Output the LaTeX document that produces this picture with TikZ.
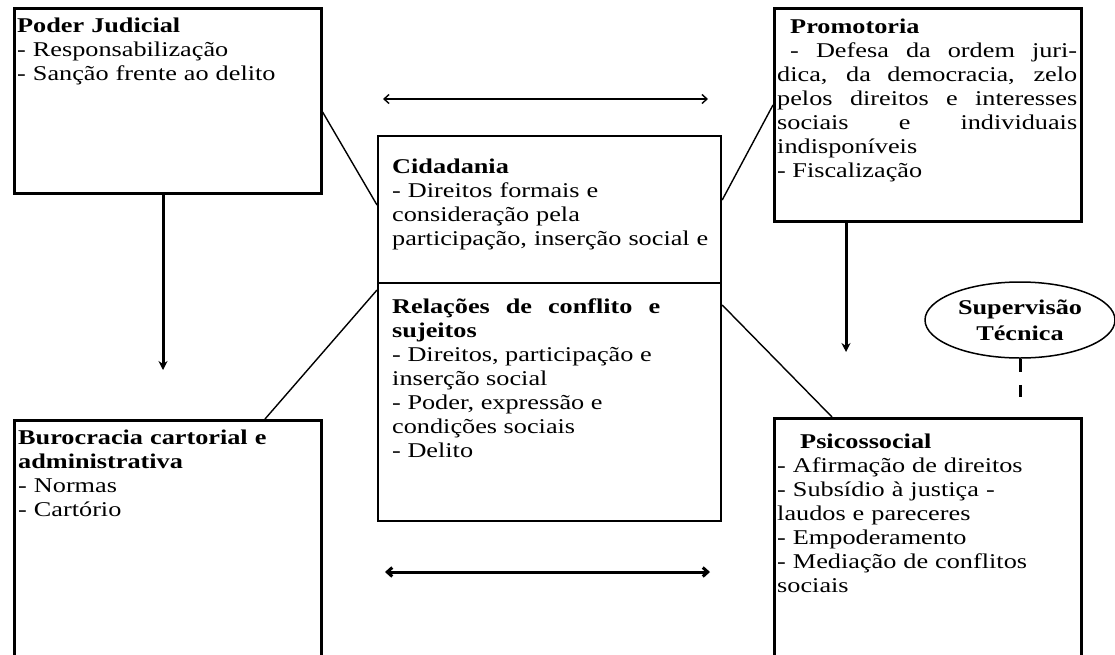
\documentclass[tikz,border=0pt]{standalone}
\usepackage{fontspec}
\setmainfont[FakeStretch=1.25]{Liberation Serif}
\usetikzlibrary{shapes.geometric,arrows.meta,calc}
\begin{document}
\begin{tikzpicture}[x=1pt,y=-1pt,
  box/.style={draw, line width=2.6pt, anchor=north west, inner sep=0pt},
  cbox/.style={draw, line width=2.2pt, anchor=north west, inner sep=0pt},
  txt/.style={anchor=base west, inner sep=0pt, font=\fontsize{21}{24}\selectfont},
  link/.style={line width=1.4pt},
  down/.style={line width=3pt, -{Stealth[length=9pt,width=9pt]}},
  both/.style={<->, >={Straight Barb[length=5pt,width=9pt]}}
]
\fill[white] (0,0) rectangle (1115,654);
\clip (0,0) rectangle (1115,654);

% boxes
\node[box, minimum width=307pt, minimum height=185pt] (pj) at (13,7) {};
\node[box, minimum width=307pt, minimum height=213pt] (prom) at (773,7) {};
\node[cbox, minimum width=343pt, minimum height=147pt] (cid) at (377,135) {};
\node[cbox, minimum width=343pt, minimum height=238pt] (rel) at (377,282) {};
\node[box, minimum width=307pt, minimum height=260pt] (buro) at (13,419) {};
\node[box, minimum width=307pt, minimum height=260pt] (psi) at (773,417) {};

% texts
\node[txt, text width=300pt, align=left] (pjt) at (17,32)
  {\textbf{Poder Judicial}\\- Responsabilização\\- Sanção frente ao delito};
\node[txt, text width=300pt, align=justify] (promt) at (777,33)
  {\hspace*{13pt}\textbf{Promotoria}\\\hspace*{13pt}- Defesa da ordem juri-\linebreak dica, da democracia, zelo\linebreak pelos direitos e interesses\linebreak sociais e individuais\linebreak indisponíveis\\- Fiscalização};
\node[txt, text width=322pt, align=left] (cidt) at (392,173)
  {\textbf{Cidadania}\\- Direitos formais e\\consideração pela\\participação, inserção social e};
\node[txt, text width=268pt, align=justify] (relt) at (392,313)
  {\textbf{Relações de conflito e\linebreak sujeitos}\\- Direitos, participação e\\inserção social\\- Poder, expressão e\\condições sociais\\- Delito};
\node[txt, text width=300pt, align=left] (burot) at (18,444)
  {\textbf{Burocracia cartorial e}\\\textbf{administrativa}\\- Normas\\- Cartório};
\node[txt, text width=300pt, align=left] (psit) at (777,448)
  {\hspace*{23pt}\textbf{Psicossocial}\\- Afirmação de direitos\\- Subsídio à justiça -\\laudos e pareceres\\- Empoderamento\\- Mediação de conflitos\\sociais};

% ellipse
\node[ellipse, draw, line width=1.5pt, minimum width=190pt, minimum height=76pt,
      align=center, inner sep=0pt, font=\fontsize{21}{26}\selectfont\bfseries] (sup) at (1020,320)
  {Supervisão\\Técnica};

% coordinates
\coordinate (pjend) at (163,370);
\coordinate (promend) at (846,352);
\coordinate (supend) at (1020,397);
\coordinate (ta1) at (383,99);
\coordinate (ta2) at (708,99);
\coordinate (ba1) at (385,572);
\coordinate (ba2) at (710,572);

% connectors
\draw[link] ($(pj.north east)+(0,105)$) -- ($(cid.north west)+(0,70)$);
\draw[link] ($(prom.north west)+(0,98)$) -- ($(cid.north east)+(0,65)$);
\draw[link] ($(rel.north west)+(0,8)$) -- ($(buro.north west)+(252,0)$);
\draw[link] ($(rel.north east)+(0,23)$) -- ($(psi.north west)+(59,0)$);
\draw[down] (pj.south -| pjend) -- (pjend);
\draw[down] (prom.south -| promend) -- (promend);
\draw[line width=3pt, dash pattern=on 13pt off 13pt] (sup.south) -- (supend);
\draw[both, line width=1.4pt] (ta1) -- (ta2);
\draw[both, line width=3pt] (ba1) -- (ba2);
\end{tikzpicture}
\end{document}
